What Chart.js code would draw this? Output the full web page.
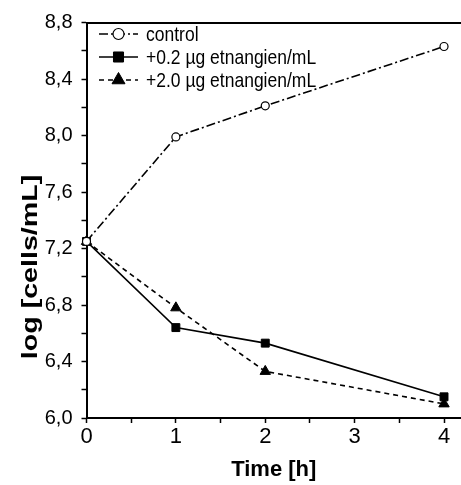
<!DOCTYPE html>
<html>
<head>
<meta charset="utf-8">
<script src="https://cdn.jsdelivr.net/npm/chart.js@4/dist/chart.umd.min.js"></script>
<style>
  html, body { margin: 0; padding: 0; background: #fff; }
  #wrap { width: 461px; height: 485px; }
</style>
</head>
<body>
<div id="wrap"><canvas id="chart" width="461" height="485"></canvas></div>
<script>
// values
const hours = [0, 1, 2, 4];
const control = [7.25, 7.99, 8.21, 8.63];
const dose02 = [7.25, 6.64, 6.53, 6.15];
const dose20 = [7.25, 6.78, 6.33, 6.10];
const seriesLabels = ['control', '+0.2 µg etnangien/mL', '+2.0 µg etnangien/mL'];
const yTitle = 'log [cells/mL]';
const xTitle = 'Time [h]';

const yTicks = [6.0, 6.2, 6.4, 6.6, 6.8, 7.0, 7.2, 7.4, 7.6, 7.8, 8.0, 8.2, 8.4, 8.6, 8.8];
const yLabelled = [6.0, 6.4, 6.8, 7.2, 7.6, 8.0, 8.4, 8.8];
const xTicks = [0, 0.5, 1, 1.5, 2, 2.5, 3, 3.5, 4];
const xLabelled = [0, 1, 2, 3, 4];

const X_MAX = 4.19;
const FONT = "'Liberation Sans', Arial, sans-serif";

function hasValue(list, v) {
  return list.some((t) => Math.abs(t - v) < 1e-6);
}

function points(ys) {
  return hours.map((h, i) => ({ x: h, y: ys[i] }));
}

// legend drawn inside the plot, with line sample + marker like the original
const insideLegend = {
  id: 'insideLegend',
  afterDatasetsDraw(chart) {
    const ctx = chart.ctx;
    const rows = [34, 57, 80];
    ctx.save();
    chart.data.datasets.forEach((ds, i) => {
      const y = rows[i];
      ctx.strokeStyle = '#000';
      ctx.lineWidth = ds.borderWidth;
      ctx.setLineDash(ds.borderDash || []);
      ctx.beginPath();
      ctx.moveTo(99, y);
      ctx.lineTo(138, y);
      ctx.stroke();
      ctx.setLineDash([]);
      ctx.fillStyle = ds.pointBackgroundColor;
      ctx.strokeStyle = '#000';
      ctx.lineWidth = ds.pointBorderWidth;
      Chart.helpers.drawPoint(ctx, {
        pointStyle: ds.pointStyle,
        radius: ds.pointRadius + 1.5,
        rotation: 0,
        borderWidth: ds.pointBorderWidth,
      }, 118.5, y);
      // the original's lettering is a bit taller than wide
      ctx.save();
      ctx.translate(146, y + 1);
      ctx.scale(1, 1.2);
      ctx.fillStyle = '#000';
      ctx.font = '17.5px ' + FONT;
      ctx.textAlign = 'left';
      ctx.textBaseline = 'middle';
      ctx.fillText(ds.label, 0, 0);
      ctx.restore();
    });
    ctx.restore();
  },
};

// y title sits lower than centre and is stretched along its length in the original
const yTitlePlugin = {
  id: 'yTitle',
  afterDraw(chart) {
    const ctx = chart.ctx;
    ctx.save();
    ctx.translate(31, 267);
    ctx.rotate(-Math.PI / 2);
    ctx.scale(1.3, 1);
    ctx.fillStyle = '#000';
    ctx.font = 'bold 22px ' + FONT;
    ctx.textAlign = 'center';
    ctx.textBaseline = 'middle';
    ctx.fillText(yTitle, 0, 0);
    ctx.restore();
  },
};

const axisGrid = {
  drawOnChartArea: false,
  drawTicks: true,
  tickLength: 5,
  tickWidth: 1.5,
  color: '#000',
};

new Chart(document.getElementById('chart'), {
  type: 'line',
  data: {
    datasets: [
      {
        label: seriesLabels[0],
        data: points(control),
        borderColor: '#000',
        borderWidth: 1.6,
        borderDash: [9, 3, 2, 3],
        pointStyle: 'circle',
        pointRadius: 4,
        pointBorderWidth: 1.2,
        pointBackgroundColor: '#fff',
        pointBorderColor: '#000',
        clip: false,
      },
      {
        label: seriesLabels[1],
        data: points(dose02),
        borderColor: '#000',
        borderWidth: 1.6,
        borderDash: [],
        pointStyle: 'rect',
        pointRadius: 5.6,
        pointBorderWidth: 1,
        pointBackgroundColor: '#000',
        pointBorderColor: '#000',
        clip: false,
      },
      {
        label: seriesLabels[2],
        data: points(dose20),
        borderColor: '#000',
        borderWidth: 1.6,
        borderDash: [5, 4],
        pointStyle: 'triangle',
        pointRadius: 6,
        pointBorderWidth: 1,
        pointBackgroundColor: '#000',
        pointBorderColor: '#000',
        clip: false,
      },
    ],
  },
  options: {
    responsive: false,
    animation: false,
    devicePixelRatio: 1,
    layout: { autoPadding: false, padding: { top: 22.5, right: 0, left: 0, bottom: 0 } },
    plugins: { legend: { display: false }, tooltip: { enabled: false } },
    scales: {
      x: {
        type: 'linear',
        position: 'bottom',
        min: 0,
        max: X_MAX,
        afterBuildTicks: (s) => { s.ticks = xTicks.map((v) => ({ value: v })); },
        afterFit: (s) => { s.height = 67; s.paddingLeft = 0; s.paddingRight = 0; },
        grid: axisGrid,
        border: { display: true, color: '#000', width: 2 },
        ticks: {
          color: '#000',
          font: { family: FONT, size: 22 },
          padding: 1,
          maxRotation: 0,
          autoSkip: false,
          callback: (v) => (hasValue(xLabelled, v) ? String(v) : ''),
        },
        title: {
          display: true,
          text: xTitle,
          color: '#000',
          font: { family: FONT, size: 22, weight: 'bold' },
          padding: { top: 0, bottom: 2 },
        },
      },
      xTop: {
        type: 'linear',
        position: 'top',
        min: 0,
        max: X_MAX,
        afterFit: (s) => { s.height = 0; s.paddingLeft = 0; s.paddingRight = 0; },
        grid: { display: false },
        border: { display: true, color: '#000', width: 2 },
        ticks: { display: false },
      },
      y: {
        type: 'linear',
        min: 6.0,
        max: 8.8,
        afterBuildTicks: (s) => { s.ticks = yTicks.map((v) => ({ value: v })); },
        afterFit: (s) => { s.width = 86.5; },
        grid: axisGrid,
        border: { display: true, color: '#000', width: 2 },
        ticks: {
          color: '#000',
          font: { family: FONT, size: 20 },
          padding: 9,
          autoSkip: false,
          callback: (v) => (hasValue(yLabelled, v) ? v.toFixed(1).replace('.', ',') : ''),
        },
        title: { display: false },
      },
    },
  },
  plugins: [insideLegend, yTitlePlugin],
});
</script>
</body>
</html>
